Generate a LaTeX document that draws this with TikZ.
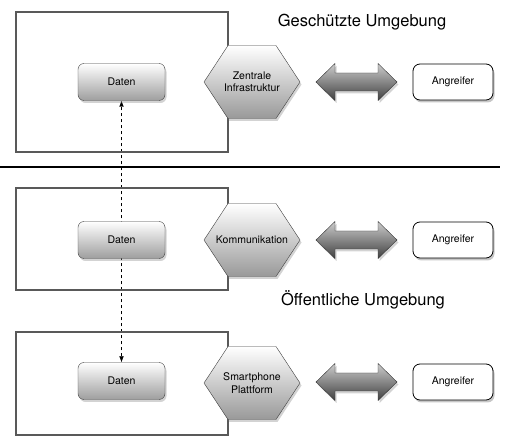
\documentclass[tikz,border=0pt]{standalone}
\usepackage{fontspec}
\setmainfont{TeX Gyre Heros}
\usetikzlibrary{shadows,backgrounds,arrows.meta}

\tikzset{
  umgebung/.style={draw=black!65, line width=1.3pt},
  daten/.style={draw=black!75, rounded corners=6pt, minimum width=87pt, minimum height=37pt,
    top color=white, bottom color=black!38, font=\fontsize{10.5}{12}\selectfont,
    drop shadow={opacity=0.35, shadow xshift=1.5pt, shadow yshift=-2.5pt}},
  angreifer/.style={draw=black, line width=0.8pt, rounded corners=7pt, minimum width=80pt, minimum height=36pt,
    fill=white, font=\fontsize{10.5}{12}\selectfont,
    drop shadow={opacity=0.45, shadow xshift=1.5pt, shadow yshift=-2.5pt}},
  hexatext/.style={minimum width=96pt, minimum height=73pt, inner sep=1pt, align=center,
    font=\fontsize{10.5}{12.5}\selectfont},
  hexa/.style={draw=black!75, top color=white, bottom color=black!40,
    drop shadow={opacity=0.35, shadow xshift=1.5pt, shadow yshift=-2.5pt}},
  titel/.style={font=\fontsize{16.5}{19}\selectfont},
  bigarrow/.style={draw=black!80, top color=black!20, bottom color=black!75,
    drop shadow={opacity=0.35, shadow xshift=1.5pt, shadow yshift=-2.5pt}},
  pics/sechseck/.style={code={
    \path[hexa] (-48,0) -- (-24,-36.5) -- (24,-36.5) -- (48,0) -- (24,36.5) -- (-24,36.5) -- cycle;}},
  pics/doppelpfeil/.style={code={
    \path[bigarrow] (-40.5,0) -- (-21.5,-18.5) -- (-21.5,-9) -- (21.5,-9) -- (21.5,-18.5)
      -- (40.5,0) -- (21.5,18.5) -- (21.5,9) -- (-21.5,9) -- (-21.5,18.5) -- cycle;}}
}

\begin{document}
\begin{tikzpicture}[x=1pt,y=-1pt]
  \useasboundingbox (0,0) rectangle (512,446);

  % geschuetzte Umgebung
  \draw[umgebung] (16,12) rectangle (228,152);
  \node[titel] (geschuetzt) at (362,22) {Geschützte Umgebung};
  \node[daten] (daten1) at (121.5,82) {Daten};
  \pic at (252,82) {sechseck};
  \node[hexatext] (zentral) at (252,82) {Zentrale\\Infrastruktur};
  \pic (pfeil1) at (356.5,82) {doppelpfeil};
  \node[angreifer] (angreifer1) at (453,82) {Angreifer};

  \draw[line width=1.5pt] (0,167) -- (500,167);

  % oeffentliche Umgebung
  \draw[umgebung] (16,188) rectangle (228,290);
  \node[daten] (daten2) at (121.5,240) {Daten};
  \pic at (252,240) {sechseck};
  \node[hexatext] (komm) at (252,240) {Kommunikation};
  \pic (pfeil2) at (356.5,240) {doppelpfeil};
  \node[angreifer] (angreifer2) at (453,240) {Angreifer};
  \node[titel] (oeffentlich) at (363,300) {Öffentliche Umgebung};

  \draw[umgebung] (16,332) rectangle (228,435);
  \node[daten] (daten3) at (121.5,381) {Daten};
  \pic at (252,383) {sechseck};
  \node[hexatext] (smartphone) at (252,383) {Smartphone\\Plattform};
  \pic (pfeil3) at (356.5,382) {doppelpfeil};
  \node[angreifer] (angreifer3) at (453,382) {Angreifer};

  \begin{scope}[on background layer]
    \draw[dashed, {Latex[length=6pt,width=4.5pt]}-{Latex[length=6pt,width=4.5pt]}] (daten3) -- (daten1);
  \end{scope}
\end{tikzpicture}
\end{document}
